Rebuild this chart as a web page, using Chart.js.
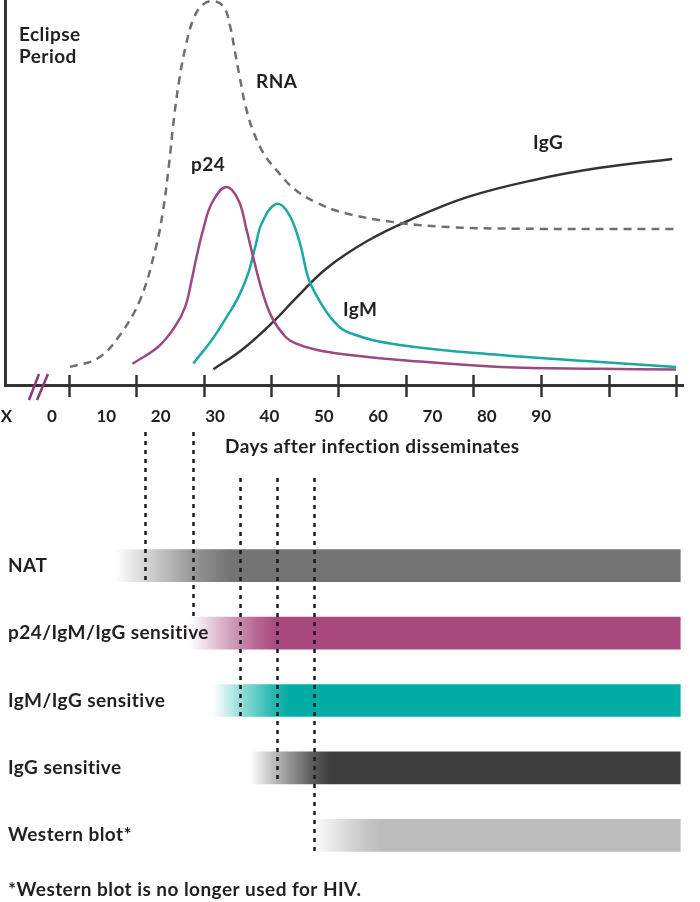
<!DOCTYPE html>
<html><head><meta charset="utf-8">
<script src="https://cdn.jsdelivr.net/npm/chart.js@4.4.0/dist/chart.umd.min.js"></script>
<style>
html,body{margin:0;padding:0;background:#fff;}
#wrap{position:relative;width:700px;height:902px;overflow:hidden;background:#fff;}
#top{position:absolute;left:0;top:0;}
#bot{position:absolute;left:0;top:420px;}
</style></head><body>
<div id="wrap"><canvas id="top" width="700" height="460"></canvas><canvas id="bot" width="700" height="482"></canvas></div>
<script>
// ---- data ----
const xTickValues = [-8.4, 0, 10, 20, 30, 40, 50, 60, 70, 80, 90];
const xTickLabels = ['X', '0', '10', '20', '30', '40', '50', '60', '70', '80', '90'];
const tickMarkDays = [3.13, 15.46, 27.97, 40.29, 52.62, 65.13, 77.46, 89.97, 102.5, 114.8];

const rnaPoints = [[3.3,4.7],[8.5,7.0],[12.5,13.0],[16.2,22.1],[19.0,35.1],[20.4,45],[21.5,57],[22.5,70],[23.5,80],[24.6,88],[26.0,95],[27.6,98.6],[29.6,99.7],[31.6,98.2],[32.8,93],[33.6,87],[34.6,79.5],[35.6,72.5],[37.0,66],[39.0,60],[41.5,55.5],[44.5,51],[48.5,47.5],[54,44.6],[64,42.1],[73.3,41.0],[85,40.6],[114.8,40.5]];
const p24Points = [[14.8,5.5],[19.6,10.0],[22.6,15.1],[24.5,20.3],[25.7,27.3],[26.6,33.3],[27.8,40.3],[29.4,47.2],[32.0,51.4],[34.3,48.0],[35.8,40.3],[37.0,33.3],[38.6,24.7],[40.4,17.7],[42.9,12.6],[44.7,10.9],[48.8,9.1],[54.8,7.8],[64.0,6.5],[82.5,4.7],[100.9,4.2],[114.8,4.0]];
const igmPoints = [[26.0,5.6],[29.4,11.7],[31.8,16.9],[34.3,22.9],[36.1,29.0],[37.4,35.9],[38.6,42.0],[41.2,47.0],[43.5,44.6],[45.6,36.9],[47.1,28.1],[48.8,22.9],[51.7,16.8],[54.8,13.5],[64.0,10.4],[82.5,7.8],[100.9,6.0],[114.8,4.7]];
const iggPoints = [[29.7,4.1],[34.9,9.1],[40.4,16.0],[45.2,23.0],[50.6,30.4],[58.0,37.4],[65.9,42.9],[76.4,48.8],[88.5,53.2],[100.8,56.4],[114.1,58.7]];

const testNames = ['NAT', 'p24/IgM/IgG sensitive', 'IgM/IgG sensitive', 'IgG sensitive', 'Western blot*'];
const testStartDays = [11.6, 25.4, 29.6, 36.4, 48.0];
const testFullDays = [32.8, 41.4, 43.8, 51.2, 60.4];
const testEndDay = 115.6;
const windowDays = [17.1, 26.0, 34.6, 41.4, 48.2];

// ---- styles ----
const X_MIN = -8.65, X_MAX = 116.1;
const FONT = 'Lato';
const TXT = '#231f20';
const testColors = ['#747474', '#a8497f', '#00aca3', '#3d3d3d', '#bcbcbc'];

function toXY(a){ return a.map(p => ({x:p[0], y:p[1]})); }
function rgba(hex, a){
  const n = parseInt(hex.slice(1),16);
  return `rgba(${(n>>16)&255},${(n>>8)&255},${n&255},${a})`;
}
function setFont(ctx, size){
  ctx.font = `bold ${size}px ${FONT}`;
  try { ctx.letterSpacing = '0.45px'; } catch(e) {}
}

const topPlugin = {
  id:'topDecor',
  afterDraw(chart){
    const ctx = chart.ctx, xs = chart.scales.x, area = chart.chartArea;
    ctx.save();
    ctx.strokeStyle = '#333'; ctx.lineWidth = 2.5;
    tickMarkDays.forEach(d => {
      const x = Math.round(xs.getPixelForValue(d)) + 0.5;
      ctx.beginPath(); ctx.moveTo(x, area.bottom - 10); ctx.lineTo(x, area.bottom + 12); ctx.stroke();
    });
    ctx.strokeStyle = '#8a3a76'; ctx.lineWidth = 2.5;
    [[29,400,39,374],[37,400,48,374]].forEach(l => {
      ctx.beginPath(); ctx.moveTo(l[0], l[1]); ctx.lineTo(l[2], l[3]); ctx.stroke();
    });
    ctx.fillStyle = TXT; ctx.textBaseline = 'alphabetic'; ctx.textAlign = 'left';
    setFont(ctx, 19);
    ctx.fillText('Eclipse', 19, 41);
    ctx.fillText('Period', 19, 63);
    ctx.fillText('RNA', 256, 88);
    ctx.fillText('p24', 191, 171);
    ctx.fillText('IgG', 533, 149);
    ctx.fillText('IgM', 343, 316);
    ctx.fillText('Days after infection disseminates', 225, 453);
    ctx.restore();
  }
};

const lineBase = {borderWidth:2.5, pointRadius:0, tension:0.4, fill:false};
new Chart(document.getElementById('top'), {
  type:'line',
  data:{datasets:[
    Object.assign({label:'RNA', data:toXY(rnaPoints), borderColor:'#6f6f6f', borderDash:[8,6]}, lineBase),
    Object.assign({label:'p24', data:toXY(p24Points), borderColor:'#9a4a80'}, lineBase),
    Object.assign({label:'IgM', data:toXY(igmPoints), borderColor:'#1aa9a0'}, lineBase),
    Object.assign({label:'IgG', data:toXY(iggPoints), borderColor:'#333333'}, lineBase)
  ]},
  options:{
    responsive:false, animation:false, devicePixelRatio:1,
    layout:{padding:{left:5, right:17, top:0, bottom:35}},
    plugins:{legend:{display:false}, tooltip:{enabled:false}},
    scales:{
      x:{type:'linear', min:X_MIN, max:X_MAX,
        grid:{display:false, drawTicks:true, tickLength:21},
        border:{display:true, color:'#333', width:3},
        afterBuildTicks: s => { s.ticks = xTickValues.map(v => ({value:v})); },
        ticks:{callback:(v) => xTickLabels[xTickValues.indexOf(v)], autoSkip:false, maxRotation:0,
          font:{family:FONT, size:17, weight:'bold'}, color:TXT, padding:0},
        afterFit: s => { s.height = 40; }
      },
      y:{min:0, max:100, grid:{display:false, drawTicks:false, tickLength:0}, ticks:{display:false},
        border:{display:true, color:'#333', width:3},
        afterFit: s => { s.width = 0; }}
    }
  },
  plugins:[topPlugin]
});

function barGrad(c){
  const chart = c.chart, area = chart.chartArea, i = c.dataIndex, col = testColors[i];
  if (!area || !chart.scales.x) return col;
  const xs = chart.scales.x;
  const x0 = xs.getPixelForValue(testStartDays[i]), x1 = xs.getPixelForValue(testFullDays[i]);
  const g = chart.ctx.createLinearGradient(x0, 0, x1, 0);
  g.addColorStop(0, rgba(col,0));
  g.addColorStop(0.35, rgba(col,0.4));
  g.addColorStop(0.75, rgba(col,0.82));
  g.addColorStop(1, rgba(col,1));
  return g;
}

const botPlugin = {
  id:'botDecor',
  afterDatasetsDraw(chart){
    const ctx = chart.ctx, xs = chart.scales.x, ys = chart.scales.y;
    const half = 16;
    ctx.save();
    ctx.fillStyle = TXT; setFont(ctx, 19); ctx.textAlign = 'left'; ctx.textBaseline = 'middle';
    testNames.forEach((n, i) => ctx.fillText(n, 8, ys.getPixelForValue(i)));
    const starts = [12, 12, 58, 58, 58];
    const ends = [ys.getPixelForValue(0)+half, ys.getPixelForValue(1)-half, ys.getPixelForValue(2)+half, ys.getPixelForValue(3)+half, ys.getPixelForValue(4)+half];
    ctx.strokeStyle = '#1a1a1a'; ctx.lineWidth = 2.5; ctx.setLineDash([4,5]);
    windowDays.forEach((d, i) => {
      const x = Math.round(xs.getPixelForValue(d)) + 0.5;
      ctx.beginPath(); ctx.moveTo(x, starts[i]); ctx.lineTo(x, ends[i]); ctx.stroke();
    });
    ctx.setLineDash([]);
    ctx.textBaseline = 'alphabetic';
    ctx.fillText('*Western blot is no longer used for HIV.', 8, 476);
    ctx.restore();
  }
};

new Chart(document.getElementById('bot'), {
  type:'bar',
  data:{labels:testNames, datasets:[{
    data:testNames.map((n,i) => [testStartDays[i], testEndDay]),
    backgroundColor:barGrad, borderWidth:0, barThickness:32, borderSkipped:false
  }]},
  options:{
    indexAxis:'y', responsive:false, animation:false, devicePixelRatio:1,
    layout:{padding:{left:5, right:17, top:112, bottom:33}},
    plugins:{legend:{display:false}, tooltip:{enabled:false}},
    scales:{
      x:{type:'linear', min:X_MIN, max:X_MAX, display:false},
      y:{display:false}
    }
  },
  plugins:[botPlugin]
});
</script>
</body></html>
